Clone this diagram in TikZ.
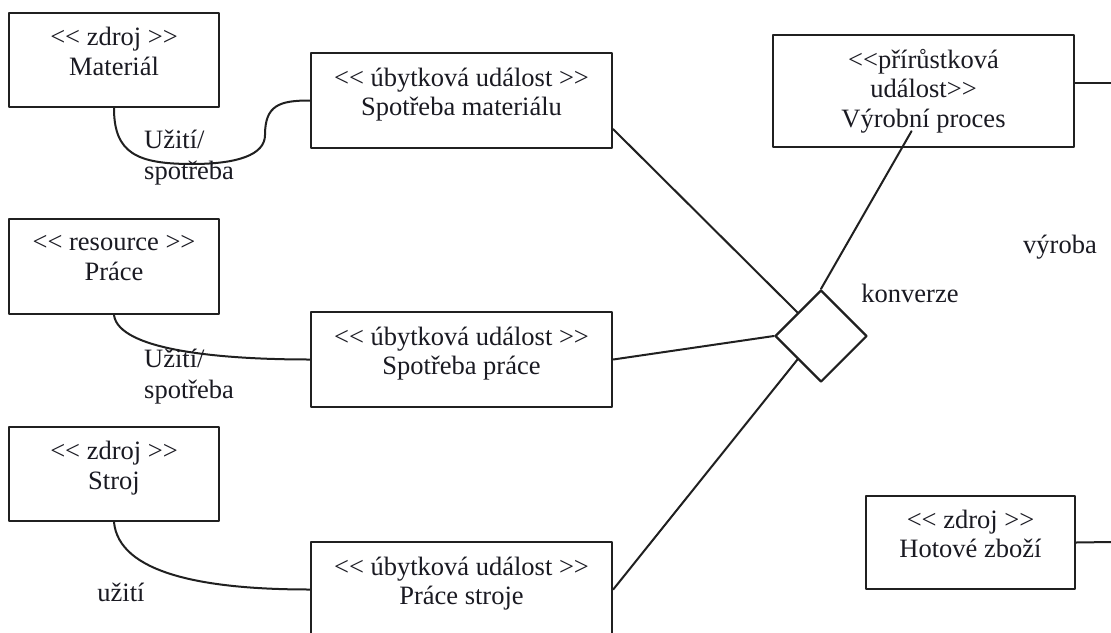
\documentclass[tikz,border=0pt]{standalone}
\usepackage{fontspec}
\setmainfont{Liberation Serif}[Ligatures=TeXOff]
\usetikzlibrary{calc,shapes.geometric}
\definecolor{umlInk}{HTML}{1A1A22}
\definecolor{umlLine}{HTML}{202020}

\begin{document}
\begin{tikzpicture}[x=1pt,y=-1pt,line cap=round,line join=round]
\clip (0,0) rectangle (1111,632);
\path[fill=white] (0,0) rectangle (1111,632);
\tikzset{box/.style={draw=umlLine,line width=2.4pt,rectangle,align=center,text=umlInk,font=\fontsize{26.5}{29.5}\selectfont,inner sep=0pt},
  lift/.style={text depth=17pt},
  wire/.style={draw=umlLine,line width=2pt},
  lbl/.style={text=umlInk,font=\fontsize{26.5}{31}\selectfont,inner sep=0pt}}
% zdroje vlevo
\node[box,lift,minimum width=210pt,minimum height=94pt] (mat) at (114,60) {<< zdroj >>\\Materiál};
\node[box,lift,minimum width=210pt,minimum height=95pt] (pr) at (114,266.5) {<< resource >>\\Práce};
\node[box,lift,minimum width=210pt,minimum height=94pt] (st) at (114,474) {<< zdroj >>\\Stroj};
% ubytkove udalosti
\node[box,lift,minimum width=301pt,minimum height=95pt] (spmat) at (461.5,100.5) {<< úbytková událost >>\\Spotřeba materiálu};
\node[box,lift,minimum width=301pt,minimum height=95pt] (sppr) at (461.5,359.5) {<< úbytková událost >>\\Spotřeba práce};
\node[box,lift,minimum width=301pt,minimum height=95pt] (pst) at (461.5,589.5) {<< úbytková událost >>\\Práce stroje};
% vpravo
\node[box,minimum width=301pt,minimum height=112pt] (vp) at (923.5,91) {<<přírůstková\\událost>>\\Výrobní proces};
\node[box,lift,minimum width=209pt,minimum height=93pt] (hz) at (970.5,542.5) {<< zdroj >>\\Hotové zboží};
\node[draw=umlLine,line width=2.2pt,diamond,aspect=1,minimum width=92pt,minimum height=92pt,inner sep=0pt] (conv) at (821,336) {};
\coordinate (vpout) at (1111,83); \coordinate (hzout) at (1111,542);
% spoje
\draw[wire] (mat.south) .. controls +(0,45) and +(-55,0) .. (192,164) .. controls +(45,0) and +(0,20) .. (265,135) .. controls +(0,-30) and +(-30,0) .. (spmat.west);
\draw[wire] (pr.south) .. controls +(5,35) and +(-90,0) .. (sppr.west);
\draw[wire] (st.south) .. controls +(5,50) and +(-110,0) .. (pst.west);
\draw[wire] ($(spmat.south east)+(0,-20)$) -- (conv.north west);
\draw[wire] (sppr.east) -- (conv.west);
\draw[wire] (pst.east) -- (conv.south west);
\draw[wire] ($(vp.south)+(-12,-17)$) -- (conv.north);
\draw[wire] ($(vp.east)+(0,-8)$) -- (vpout);
\draw[wire] (hz.east) -- (hzout);
% popisky
\node[lbl,align=left,anchor=west] (l1) at (144,158) {Užití/\\spotřeba};
\node[lbl,align=left,anchor=west] (l2) at (144,377) {Užití/\\spotřeba};
\node[lbl] (l3) at (121,592) {užití};
\node[lbl] (l4) at (910,293) {konverze};
\node[lbl] (l5) at (1060,247) {výroba};
\end{tikzpicture}
\end{document}
